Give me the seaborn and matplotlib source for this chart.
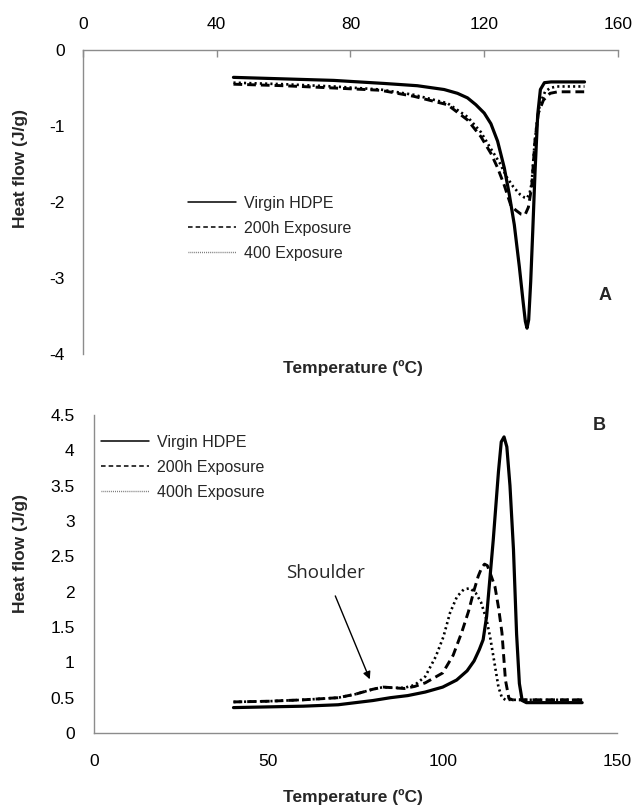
import matplotlib
matplotlib.use("Agg")
import matplotlib.pyplot as plt
from matplotlib.lines import Line2D
import seaborn as sns

# ---- panel A (top): melting curves ----
a_virgin_x = [45, 60, 75, 90, 100, 108, 112, 115, 117.5, 120, 122, 124, 126, 127.5, 129, 130.5,
              131.6, 132.3, 132.8, 133.3, 133.9, 134.5, 135.2, 136, 136.8, 138, 140, 150]
a_virgin_y = [-0.36, -0.38, -0.40, -0.44, -0.47, -0.52, -0.57, -0.63, -0.72, -0.83, -0.97, -1.2,
              -1.55, -1.9, -2.3, -2.85, -3.3, -3.57, -3.66, -3.55, -3.05, -2.4, -1.6, -0.85,
              -0.52, -0.43, -0.42, -0.42]
a_200_x = [45, 60, 75, 89, 99, 109, 115, 119, 122, 124, 126, 128, 129.5, 131, 132.2, 133.2,
           134.2, 135.2, 136.2, 137.7, 139.7, 142, 150]
a_200_y = [-0.45, -0.47, -0.50, -0.53, -0.61, -0.72, -0.92, -1.14, -1.36, -1.55, -1.78, -2.05,
           -2.11, -2.16, -2.17, -2.07, -1.8, -1.18, -0.83, -0.66, -0.57, -0.55, -0.55]
a_400_x = [45, 60, 75, 89, 99, 109, 115, 119, 122, 124.7, 126.7, 128.7, 130.7, 132, 132.8,
           133.6, 134.2, 134.9, 135.7, 136.7, 138.2, 139.7, 141.7, 150]
a_400_y = [-0.43, -0.45, -0.48, -0.52, -0.59, -0.70, -0.88, -1.08, -1.30, -1.49, -1.67, -1.8,
           -1.9, -1.94, -1.95, -1.88, -1.75, -1.32, -0.96, -0.7, -0.55, -0.5, -0.48, -0.48]
a_labels = ["Virgin HDPE", "200h Exposure", "400 Exposure"]

# ---- panel B (bottom): crystallisation curves ----
b_virgin_x = [40, 50, 60, 70, 80, 85, 90, 95, 100, 104, 107, 109, 110.5, 111.6, 112.6, 114.5,
              116, 116.8, 117.6, 118.4, 119.3, 120.3, 121.2, 122, 122.8, 124, 140]
b_virgin_y = [0.36, 0.37, 0.38, 0.40, 0.46, 0.50, 0.53, 0.58, 0.65, 0.75, 0.88, 1.02, 1.18, 1.32,
              1.65, 2.73, 3.7, 4.12, 4.19, 4.05, 3.5, 2.6, 1.4, 0.70, 0.46, 0.43, 0.43]
b_200_x = [40, 50, 60, 70, 75, 80, 83, 86, 89, 92, 95, 100, 103, 105.5, 107.4, 109, 110.2,
           111.2, 112, 112.8, 113.5, 115, 116, 117, 118, 119, 120, 140]
b_200_y = [0.44, 0.45, 0.47, 0.50, 0.55, 0.62, 0.65, 0.64, 0.63, 0.66, 0.71, 0.85, 1.1, 1.43,
           1.72, 2.02, 2.22, 2.34, 2.39, 2.37, 2.28, 2.07, 1.78, 1.42, 0.75, 0.49, 0.47, 0.47]
b_400_x = [40, 50, 60, 70, 75, 80, 83, 86, 89, 92, 95, 98, 100.2, 102.1, 104.1, 106, 107.8,
           109.5, 111, 112.6, 113.6, 115, 116, 117, 118, 140]
b_400_y = [0.44, 0.45, 0.47, 0.50, 0.55, 0.62, 0.65, 0.64, 0.64, 0.68, 0.80, 1.08, 1.36, 1.70,
           1.93, 2.03, 2.05, 1.98, 1.85, 1.60, 1.36, 0.95, 0.65, 0.50, 0.47, 0.47]
b_labels = ["Virgin HDPE", "200h Exposure", "400h Exposure"]

a_xticks = [0, 40, 80, 120, 160]
a_yticks = [0, -1, -2, -3, -4]
b_xticks = [0, 50, 100, 150]
b_yticks = [0, 0.5, 1, 1.5, 2, 2.5, 3, 3.5, 4, 4.5]
b_yticklabels = ["0", "0.5", "1", "1.5", "2", "2.5", "3", "3.5", "4", "4.5"]

sns.set_style("white")
narrow = ["Liberation Sans Narrow", "Liberation Sans", "DejaVu Sans"]
plt.rcParams["font.family"] = narrow

grey = "#8c8c8c"
solid = dict(color="black", lw=2.3)
dashed = dict(color="black", lw=2.1, dashes=(3.0, 1.7))
dotted = dict(color="black", lw=1.9, dashes=(0.8, 1.2))

fig = plt.figure(figsize=(6.34, 8.09), dpi=100)
axA = fig.add_axes([0.1309, 0.5624, 0.8438, 0.3758])
axB = fig.add_axes([0.1483, 0.0939, 0.8249, 0.3931])


def draw(ax, xs, ys, style):
    sns.lineplot(x=xs, y=ys, ax=ax, color=style["color"], lw=style["lw"], sort=False,
                 estimator=None)
    line = ax.lines[-1]
    if "dashes" in style:
        line.set_dashes(style["dashes"])
    line.set_solid_joinstyle("round")


def legend(ax, labels, anchor):
    handles = [Line2D([], [], color="black", lw=1.1),
               Line2D([], [], color="black", lw=1.1, dashes=(3, 2)),
               Line2D([], [], color="#666666", lw=1.0, dashes=(0.6, 0.8))]
    ax.legend(handles, labels, loc="upper left", bbox_to_anchor=anchor, frameon=False,
              borderpad=0, borderaxespad=0, handlelength=3.0, handletextpad=0.5,
              labelspacing=0.62, prop={"family": narrow, "size": 11.5})


def style_axes(ax):
    for s in ax.spines.values():
        s.set_color(grey)
        s.set_linewidth(1.0)
    ax.tick_params(colors=grey, labelcolor="black", labelsize=12.5, width=1.0, length=5)


label_font = dict(fontsize=12.5, fontweight="bold", family="Liberation Sans", va="center")

# panel A
draw(axA, a_virgin_x, a_virgin_y, solid)
draw(axA, a_200_x, a_200_y, dashed)
draw(axA, a_400_x, a_400_y, dotted)
axA.set_xlim(0, 160)
axA.set_ylim(-4, 0)
axA.set_xticks(a_xticks)
axA.set_yticks(a_yticks)
axA.set_yticklabels([str(v) for v in a_yticks])
style_axes(axA)
axA.spines["bottom"].set_visible(False)
axA.spines["right"].set_visible(False)
axA.xaxis.set_ticks_position("top")
axA.tick_params(axis="x", direction="in", pad=13, labeltop=True, labelbottom=False)
axA.tick_params(axis="y", direction="out", pad=8)
axA.set_xlabel("Temperature (ºC)", **label_font)
axA.xaxis.set_label_position("bottom")
axA.xaxis.set_label_coords(0.505, -0.02)
axA.set_ylabel("Heat flow (J/g)", **label_font)
axA.yaxis.set_label_coords(-0.116, 0.609)
axA.text(0.975, 0.194, "A", transform=axA.transAxes, ha="center", va="center",
         fontsize=13, fontweight="bold", family="Liberation Sans")
legend(axA, a_labels, (0.196, 0.52))

# panel B
draw(axB, b_virgin_x, b_virgin_y, solid)
draw(axB, b_200_x, b_200_y, dashed)
draw(axB, b_400_x, b_400_y, dotted)
axB.set_xlim(0, 150)
axB.set_ylim(0, 4.5)
axB.set_xticks(b_xticks)
axB.set_yticks(b_yticks)
axB.set_yticklabels(b_yticklabels)
style_axes(axB)
axB.spines["top"].set_visible(False)
axB.spines["right"].set_visible(False)
axB.tick_params(axis="x", direction="out", pad=10)
axB.tick_params(axis="y", direction="out", pad=9)
axB.set_xlabel("Temperature (ºC)", **label_font)
axB.xaxis.set_label_coords(0.495, -0.201)
axB.set_ylabel("Heat flow (J/g)", **label_font)
axB.yaxis.set_label_coords(-0.140, 0.566)
axB.text(0.966, 0.968, "B", transform=axB.transAxes, ha="center", va="center",
         fontsize=13, fontweight="bold", family="Liberation Sans")
legend(axB, b_labels, (0.013, 0.937))

axB.text(66.3, 2.27, "Shoulder", ha="center", va="center", fontsize=13.5, family="Open Sans")
axB.annotate("", xy=(79.1, 0.76), xytext=(69.2, 1.94),
             arrowprops=dict(arrowstyle="-|>", color="black", lw=1.0, mutation_scale=11,
                             shrinkA=0, shrinkB=0))

fig.savefig("out.png", dpi=100)
